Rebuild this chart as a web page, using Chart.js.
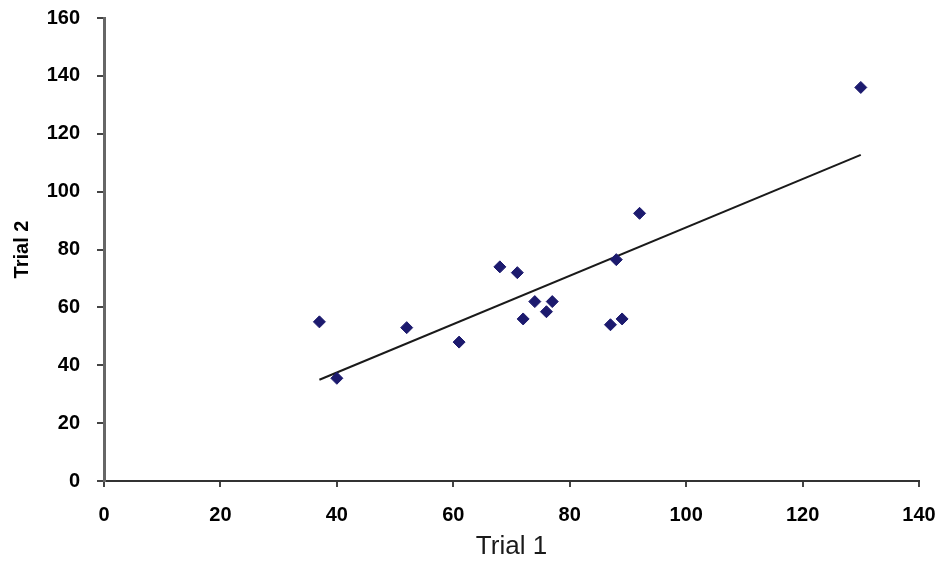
<!DOCTYPE html>
<html>
<head>
<meta charset="utf-8">
<script src="https://cdn.jsdelivr.net/npm/chart.js@4/dist/chart.umd.min.js"></script>
<style>
  html, body { margin: 0; padding: 0; background: #fff; }
  #wrap { width: 952px; height: 567px; }
</style>
</head>
<body>
<div id="wrap"><canvas id="myChart"></canvas></div>
<script>
// Trial 1 / Trial 2 scores
const trial1 = [37, 40, 52, 61, 68, 71, 72, 74, 76, 77, 87, 88, 89, 92, 130];
const trial2 = [55, 35.5, 53, 48, 74, 72, 56, 62, 58.5, 62, 54, 76.5, 56, 92.5, 136];

// trendline end points as drawn
const trendX = [37, 130];
const trendY = [35, 112.7];

const xTicks = [0, 20, 40, 60, 80, 100, 120, 140];
const yTicks = [0, 20, 40, 60, 80, 100, 120, 140, 160];

const points = trial1.map((x, i) => ({ x: x, y: trial2[i] }));
const trend = trendX.map((x, i) => ({ x: x, y: trendY[i] }));

const tickFont = { family: "'Liberation Sans', Arial, sans-serif", size: 20, weight: "bold" };

new Chart(document.getElementById("myChart"), {
  type: "scatter",
  data: {
    datasets: [
      {
        label: "Trial 2",
        data: points,
        pointStyle: "rectRot",
        pointRadius: 6,
        pointBackgroundColor: "#1c1a6e",
        pointBorderColor: "#1c1a6e",
        pointBorderWidth: 1,
      },
      {
        label: "Linear",
        type: "line",
        data: trend,
        borderColor: "#1a1a1a",
        borderWidth: 2,
        pointRadius: 0,
        fill: false,
      },
    ],
  },
  options: {
    responsive: true,
    maintainAspectRatio: false,
    animation: false,
    layout: { padding: { left: 0, right: 33, top: 18, bottom: 0 } },
    plugins: {
      legend: { display: false },
      tooltip: { enabled: false },
    },
    scales: {
      x: {
        type: "linear",
        min: 0,
        max: 140,
        afterFit: (s) => { s.height = 86; },
        afterBuildTicks: (s) => { s.ticks = xTicks.map((v) => ({ value: v })); },
        grid: { display: true, drawOnChartArea: false, drawTicks: true, tickLength: 6, color: "#444", lineWidth: 2 },
        border: { display: true, color: "#333", width: 2 },
        ticks: { color: "#000", font: tickFont, padding: 16, maxRotation: 0 },
        title: {
          display: true,
          text: "Trial 1",
          color: "#1a1a1a",
          font: { family: "'Liberation Sans', Arial, sans-serif", size: 26 },
          padding: { top: 0, bottom: 5 },
        },
      },
      y: {
        type: "linear",
        min: 0,
        max: 160,
        afterFit: (s) => {
          s.width = 104;
          s.paddingTop = 0;
          s.paddingBottom = 0;
        },
        afterBuildTicks: (s) => { s.ticks = yTicks.map((v) => ({ value: v })); },
        grid: { display: true, drawOnChartArea: false, drawTicks: true, tickLength: 7, color: "#444", lineWidth: 2 },
        border: { display: true, color: "#666", width: 3 },
        ticks: { color: "#000", font: tickFont, padding: 17 },
        title: {
          display: true,
          text: "Trial 2",
          color: "#000",
          font: { family: "'Liberation Sans', Arial, sans-serif", size: 20, weight: "bold" },
          padding: { top: 10, bottom: 0 },
        },
      },
    },
  },
});
</script>
</body>
</html>
